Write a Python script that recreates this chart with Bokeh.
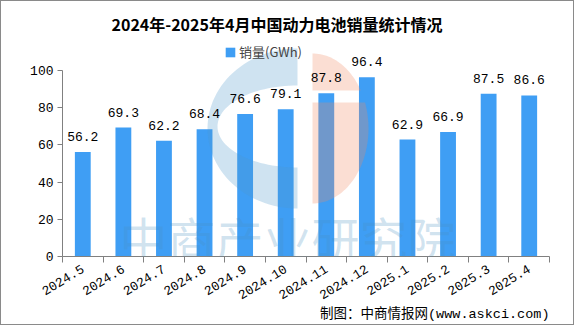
import numpy as np
from bokeh.plotting import figure
from bokeh.models import (Range1d, FixedTicker, LinearAxis, ColumnDataSource,
                          LabelSet, Label, Legend, LegendItem, Title)
from bokeh.core.properties import value
from bokeh.embed import file_html
from bokeh.resources import INLINE

# ---- data ----
categories = ["2024.5", "2024.6", "2024.7", "2024.8", "2024.9", "2024.10",
              "2024.11", "2024.12", "2025.1", "2025.2", "2025.3", "2025.4"]
sales = [56.2, 69.3, 62.2, 68.4, 76.6, 79.1, 87.8, 96.4, 62.9, 66.9, 87.5, 86.6]
y_ticks = [0, 20, 40, 60, 80, 100]
title_text = "2024年-2025年4月中国动力电池销量统计情况"
series_name = "销量(GWh)"
source_text = "制图：中商情报网(www.askci.com)"
watermark_text = "中商产业研究院"

MONO = "'Liberation Mono', 'Noto Sans CJK SC'"
CJK = "'Noto Sans CJK SC'"
BAR = "#3f9ef4"
AXIS = "#808080"

n = len(categories)
xs = [i + 0.5 for i in range(n)]
src = ColumnDataSource(dict(x=xs, y=sales, label=[f"{v:.1f}" for v in sales]))

p = figure(width=574, height=325, x_range=Range1d(0, n), y_range=Range1d(0, 117.74),
           output_backend="svg", toolbar_location=None,
           min_border_left=61, min_border_right=26, min_border_top=36, min_border_bottom=70,
           x_axis_type=None, y_axis_type=None)
p.styles = {"border": "1px solid #8a8a8a"}
p.outline_line_color = None
p.background_fill_color = "white"
p.border_fill_color = "white"

# title (above the frame)
p.title.text = title_text
p.title.align = "left"
p.title.offset = 49
p.title.standoff = 4
p.title.text_font = CJK
p.title.text_font_size = "16px"
p.title.text_font_style = "bold"
p.title.text_color = "black"

# pixel-like helper ranges for decorations (canvas coordinates)
p.extra_x_ranges = {"px": Range1d(62, 549)}
p.extra_y_ranges = {"py": Range1d(256, 37)}

# x axis: labels at category centres, ticks at boundaries
xa = LinearAxis(ticker=FixedTicker(ticks=xs, minor_ticks=list(range(n + 1))))
xa.major_label_overrides = {x: c for x, c in zip(xs, categories)}
xa.major_tick_line_color = None
xa.major_tick_out = 0
xa.major_tick_in = 0
xa.minor_tick_line_color = AXIS
xa.minor_tick_out = 6
xa.minor_tick_in = 0
xa.axis_line_color = AXIS
xa.major_label_orientation = 0.55
xa.major_label_standoff = 5
xa.major_label_text_font = MONO
xa.major_label_text_font_size = "13px"
xa.major_label_text_color = "black"
p.add_layout(xa, "below")

ya = LinearAxis(ticker=FixedTicker(ticks=y_ticks), bounds=(0, 100))
ya.minor_tick_line_color = None
ya.major_tick_out = 5
ya.major_tick_in = 0
ya.major_tick_line_color = AXIS
ya.axis_line_color = AXIS
ya.major_label_standoff = 4
ya.major_label_text_font = MONO
ya.major_label_text_font_size = "13px"
ya.major_label_text_color = "black"
p.add_layout(ya, "left")

# source note (below the axis)
p.add_layout(Title(text=source_text, align="right", vertical_align="top", text_font=MONO,
                   text_font_size="13.5px", text_font_style="normal",
                   text_color="black", standoff=0), "below")

# bars
r = p.vbar(x="x", top="y", width=0.39, source=src, fill_color=BAR, line_color=None)

# value labels
p.add_layout(LabelSet(x="x", y="y", text="label", source=src, text_align="center",
                      text_baseline="bottom", y_offset=11, text_font=value(MONO),
                      text_font_size="13px", text_color="black"))

# watermark logo (decoration)
t = np.linspace(0, np.pi, 60)
bx = np.concatenate([297 - 90 * np.sin(t), (297 - 80 * np.sin(t))[::-1]])
by = np.concatenate([128 - 80 * np.cos(t), (126 - 41 * np.cos(t))[::-1]])
p.patch(bx, by, x_range_name="px", y_range_name="py", fill_color="#4f97cc",
        fill_alpha=0.27, line_color=None)
t1 = np.arccos((128 - 90) / 75)
ta = np.linspace(0, t1, 30)
ox1 = np.concatenate([312 + 56 * np.sin(ta), [312]])
oy1 = np.concatenate([128 - 75 * np.cos(ta), [90]])
p.patch(ox1, oy1, x_range_name="px", y_range_name="py", fill_color="#f08a60",
        fill_alpha=0.28, line_color=None)
t2 = np.arccos((128 - 102) / 75)
tb = np.linspace(t2, np.pi, 50)
ox2 = np.concatenate([[312], 312 + 56 * np.sin(tb)])
oy2 = np.concatenate([[102], 128 - 75 * np.cos(tb)])
p.patch(ox2, oy2, x_range_name="px", y_range_name="py", fill_color="#f08a60",
        fill_alpha=0.28, line_color=None)

p.add_layout(Label(x=287, y=236, x_range_name="px", y_range_name="py", text=watermark_text,
                   text_align="center", text_baseline="middle", text_font=CJK,
                   text_font_size="48px", text_color="#4a90c0", text_alpha=0.25))

# legend
legend = Legend(items=[LegendItem(label=series_name, renderers=[r])], location=(162, 195),
                orientation="horizontal", border_line_color=None, background_fill_alpha=0,
                padding=0, margin=0, glyph_width=12, glyph_height=12, label_height=14,
                label_standoff=3, label_text_font=CJK, label_text_font_size="13px")
p.add_layout(legend)

open("out.html", "w").write(file_html(p, INLINE))
